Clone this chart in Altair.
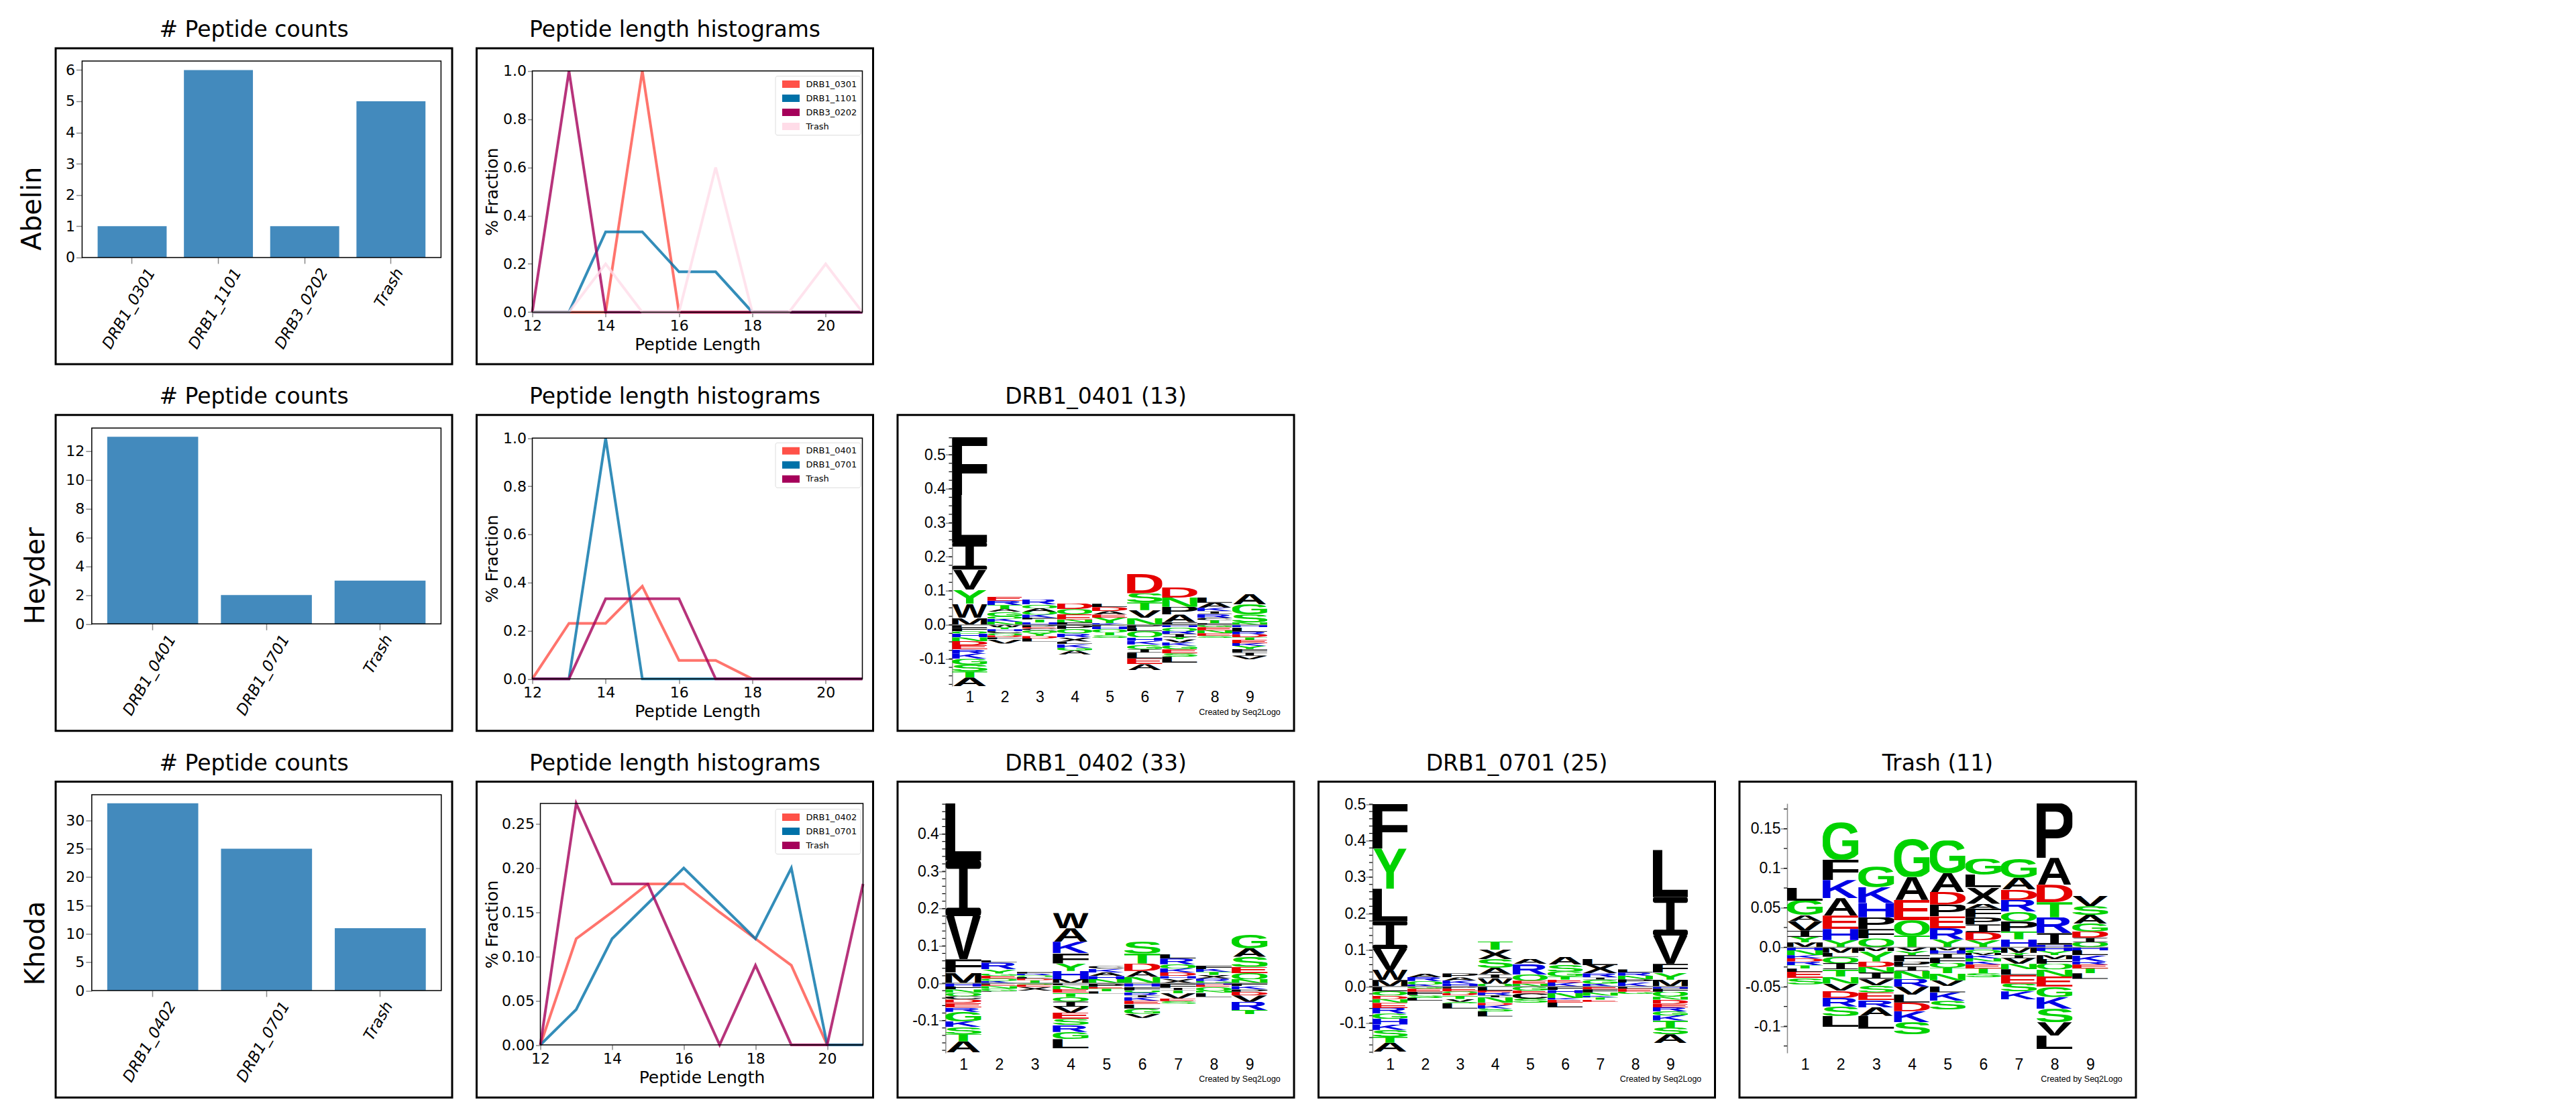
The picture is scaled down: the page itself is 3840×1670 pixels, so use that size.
import base64
import altair as alt
import pandas as pd

# ---------- data ----------
LENGTHS = [12, 13, 14, 15, 16, 17, 18, 19, 20, 21]
COLORS = ["#FF5148", "#0071A8", "#A5005A", "#FFDCE8"]

ABELIN_CATS = ["DRB1_0301", "DRB1_1101", "DRB3_0202", "Trash"]
ABELIN_COUNTS = [1, 6, 1, 5]
ABELIN_HIST = {
    "DRB1_0301": [0, 0, 0, 1, 0, 0, 0, 0, 0, 0],
    "DRB1_1101": [0, 0, .333, .333, .167, .167, 0, 0, 0, 0],
    "DRB3_0202": [0, 1, 0, 0, 0, 0, 0, 0, 0, 0],
    "Trash": [0, 0, .2, 0, 0, .6, 0, 0, .2, 0],
}
HEYDER_CATS = ["DRB1_0401", "DRB1_0701", "Trash"]
HEYDER_COUNTS = [13, 2, 3]
HEYDER_HIST = {
    "DRB1_0401": [0, .231, .231, .385, .077, .077, 0, 0, 0, 0],
    "DRB1_0701": [0, 0, 1, 0, 0, 0, 0, 0, 0, 0],
    "Trash": [0, 0, .333, .333, .333, 0, 0, 0, 0, 0],
}
KHODA_CATS = ["DRB1_0402", "DRB1_0701", "Trash"]
KHODA_COUNTS = [33, 25, 11]
KHODA_HIST = {
    "DRB1_0402": [0, .12, .15, .182, .182, .15, .12, .09, 0, 0],
    "DRB1_0701": [0, .04, .12, .16, .20, .16, .12, .20, 0, 0],
    "Trash": [0, .273, .182, .182, .09, 0, .09, 0, 0, .182],
}

# Sequence logo stacks: letter + height in thousandths, listed top to bottom.
L0401_POS = [
    "F170 L140 I80 V59 Y41 W41 M21", "E13 R13 T12 A8 G13 Q7 K9 N9",
    "R15 Q11 A10 Q9 K9 F5 T9 H7", "D17 Q15 E15 N9 F7", "L10 D12 A10 E9 Y16 K5",
    "D57 S27 T23 V22 N21", "D31 N27 P23 A22 F8", "L15 A15 K10 I8 R11 C7 T9 F5",
    "A31 G30 S23 N7",
]
L0401_NEG = [
    "L9 F10 Q7 H11 N11 D12 E12 R13 K15 G17 S20 T18 A25", "W7 Y6 H6 C6 Q6 D6 F6 V12",
    "P7 E4 C5 Q8 Y9 D7 L9", "P12 Q13 R11 X13 L7 K11 G9 A11", "P5 H8 Q9 T9 S7",
    "P9 L10 Q17 H11 K11 G13 I11 L17 E17 A17", "H7 Q11 R9 I9 Y7 V9 K9 G11 E12 S10 L17",
    "G7 E9 N9 E8 S5", "H7 L13 R8 D9 T7 E10 K8 Y9 F10 I10 V11",
]
L0402_POS = [
    "L153 I149 V116 F36 M28", "L7 R17 Y12 G6 E8 Q6 K6", "F4 R5 Q4 L5 D4 T8",
    "W41 A36 K30 F28 Y20 H22 M11", "C7 K10 A10 H8 N11", "S31 T27 D20 A16 N17",
    "L12 R15 Q11 K11 D10 H7 X12", "F9 K8 T8 X10 R6 G6", "G36 A23 S27 E17 Q16 N11",
]
L0402_NEG = [
    "H9 F8 N9 Q9 C9 D9 E12 R12 G25 K15 S19 T20 A29", "P4 E4 N7 G6 L2", "S4 E6 X10",
    "L6 N10 E9 T12 Q12 I14 V16 E17 S16 R19 G19 L25", "P10 E5 T7 L6",
    "H9 F10 Q6 R7 I6 K9 E9 L12 G14 V11", "F12 I7 T8 V14 E7 S7", "H4 E6 Q10 N5 L12",
    "F8 K9 P6 D10 V17 R22 T11",
]
L0701_POS = [
    "F123 Y110 L89 I76 V57 W28 M18", "A10 R11 Q9 K6", "P11 A8 K9 H8",
    "T23 X26 S23 A18 I11 W15 Q8", "A14 R29 Q17 E8 N8", "A21 S19 G13 T9 E8 K11",
    "L17 X23 R11 I6 G11 K8", "L9 R8 N10 P9 K11", "L130 I105 V78 F24 Y19 M19",
]
L0701_NEG = [
    "L13 Q11 D10 N11 E14 R15 G14 H16 K15 S19 T16 A25", "G6 E8 F9 S8 L8",
    "P5 E8 Q5 D6 T10 V8 S4 L14", "L11 E5 R8 I6 N15 D6 K9 S8 L14", "G11 E8 C14 S11",
    "F10 H8 N13 K5 E8 L13", "E8 F8 N9 K5 T6 E6", "L6 E8 G6",
    "H6 F8 Q14 N8 D11 E10 R11 G11 K14 T19 S19 A24",
]
LTRASH_POS = [
    "L16 G18 A8 V12 I8 Y7 M6", "G47 F26 K23 A22 E17 H14 Y9", "G26 K20 H18 P15 F12 Q11",
    "G48 A29 E26 Q19 T15", "G41 A24 D16 P15 E15 R14 Y10",
    "G20 L16 X21 A6 F11 P9 I10 D10 Y9", "G24 A15 D13 R15 Q12 P13 T10 H10",
    "P69 A34 D22 T19 R20 I15 H3", "V13 S11 A11 G10 D8 I6 Q6",
]
LTRASH_NEG = [
    "H4 N6 K4 D4 R5 T4 L4 E8 S8", "M7 L5 Q8 I8 T9 N9 V9 D9 R11 S12 L14",
    "M5 Y13 D7 N7 I8 V8 S9 E10 R9 A11 L16", "V5 Y5 F8 P6 I6 N10 R10 V10 L10 D11 K14 S15",
    "M4 H4 I6 F6 Q6 T7 N9 V7 L8 K11 S11", "H3 Q4 M3 K4 N4 K4 E5 T6 S5",
    "M7 Y3 I4 V7 N7 L7 E11 S10 K10", "H5 Y5 M5 F6 Q7 N9 E13 G13 K15 S17 V17 L17",
    "H4 L6 K8 R4 E5 T6 L7",
]

LOGO_TICKS_A = [-0.1, 0.0, 0.1, 0.2, 0.3, 0.4, 0.5]
LOGO_TICKS_B = [-0.1, 0.0, 0.1, 0.2, 0.3, 0.4]
LOGO_TICKS_T = [-0.1, -0.05, 0.0, 0.05, 0.1, 0.15]

# ---------- styling helpers ----------
BOX_W, BOX_H = 591, 471
SANS = "DejaVu Sans"
LOGO_FONT = "Liberation Sans"
TITLE = 33
BAR = "#438ABD"
LETTER_COLOR = dict.fromkeys("DE", "#E60000") | dict.fromkeys("HKR", "#0000E6") | dict.fromkeys("GSTYNQ", "#00D200")
INK = {"A": (0, 1479), "C": (98, 1378), "D": (150, 1381), "E": (150, 1257), "F": (150, 1149), "G": (100, 1468),
       "H": (150, 1327), "K": (150, 1479), "L": (150, 1190), "M": (145, 1560), "N": (150, 1325), "P": (150, 1270),
       "Q": (90, 1500), "R": (150, 1470), "S": (75, 1270), "T": (45, 1205), "V": (0, 1366), "W": (0, 1933),
       "X": (0, 1366), "Y": (0, 1366)}


def glyph(letter):
    color = LETTER_COLOR.get(letter, "#000000")
    if letter == "I":
        svg = ("<svg xmlns='http://www.w3.org/2000/svg' viewBox='0 0 100 100' preserveAspectRatio='none'>"
               "<rect x='0' y='0' width='100' height='15' rx='6' ry='7' fill='black'/>"
               "<rect x='0' y='85' width='100' height='15' rx='6' ry='7' fill='black'/>"
               "<rect x='38' y='10' width='24' height='80' fill='black'/></svg>")
    else:
        x0, x1 = INK[letter]
        svg = (f"<svg xmlns='http://www.w3.org/2000/svg' viewBox='{x0} -1409 {x1 - x0} 1409' "
               f"preserveAspectRatio='none'><text x='0' y='0' font-family='{LOGO_FONT}' font-weight='bold' "
               f"font-size='2048' fill='{color}'>{letter}</text></svg>")
    return "data:image/svg+xml;base64," + base64.b64encode(svg.encode()).decode()


GLYPH = {c: glyph(c) for c in "ACDEFGHIKLMNPQRSTVWXY"}


def logo_frame(pos, neg):
    rows = []
    for col, (p, n) in enumerate(zip(pos, neg), start=1):
        items = [(t[0], int(t[1:]) / 1000) for t in p.split()]
        top = sum(h for _, h in items)
        for c, h in items:
            rows.append({"x0": col - .5, "x1": col + .5, "y0": top - h, "y1": top, "letter": c, "url": GLYPH[c]})
            top -= h
        top = 0
        for c, h in [(t[0], int(t[1:]) / 1000) for t in n.split()]:
            rows.append({"x0": col - .5, "x1": col + .5, "y0": top - h, "y1": top, "letter": c, "url": GLYPH[c]})
            top -= h
    return pd.DataFrame(rows)


def view():
    return alt.ViewBackground(stroke="black", strokeWidth=3, fill="white")


def head(text):
    return alt.TitleParams(text, fontSize=TITLE, font=SANS, fontWeight="normal", anchor="middle", frame="group",
                           offset=10, color="black")


def frame(x0, x1, y0, y1):
    return alt.Chart(pd.DataFrame({"a": [0]})).mark_rect(fillOpacity=0, stroke="black", strokeWidth=1.5).encode(
        x=alt.value(x0), x2=alt.value(x1), y=alt.value(y0), y2=alt.value(y1))


def bars(cats, counts, row, xr, yr, ymax, po, row_x, row_y):
    df = pd.DataFrame({"cat": cats, "n": counts})
    b = alt.Chart(df).mark_bar(color=BAR).encode(
        x=alt.X("cat:N", sort=None, title=None,
                scale=alt.Scale(range=list(xr), paddingInner=.2, paddingOuter=po),
                axis=alt.Axis(labelAngle=300, labelFont=SANS, labelFontSize=23, labelFontStyle="italic",
                              labelAlign="right", labelBaseline="middle", labelPadding=9, tickSize=9,
                              tickWidth=1.5, domain=False, offset=yr[0] - BOX_H,
                              labelOffset={"condition": {"test": "datum.label == 'Trash'", "value": 13}, "value": 29})),
        y=alt.Y("n:Q", title=row,
                scale=alt.Scale(domain=[0, ymax], range=list(yr), nice=False),
                axis=alt.Axis(labelFont=SANS, labelFontSize=22, tickSize=9, tickWidth=1.5, labelPadding=2,
                              domain=False, grid=False, offset=-xr[0], tickMinStep=1,
                              values=list(range(0, int(ymax) + 1, 5 if ymax > 20 else 2 if ymax > 10 else 1)),
                              titleFont=SANS, titleFontSize=40, titleFontWeight="normal", titleBaseline="middle",
                              titleAlign="center", titleX=row_x - xr[0], titleY=row_y)))
    return alt.layer(b, frame(xr[0], xr[1], yr[1], yr[0])).properties(
        width=BOX_W, height=BOX_H, view=view(), title=head("# Peptide counts"))


def hist(series, xr, yr, ymax, ticks, fmt, legend_y):
    names = list(series)
    df = pd.DataFrame([{"len": l, "frac": v, "name": n, "ord": i} for i, n in enumerate(names)
                       for l, v in zip(LENGTHS, series[n])])
    line = alt.Chart(df).mark_line(strokeWidth=4, opacity=.8, strokeJoin="miter").encode(
        x=alt.X("len:Q", title="Peptide Length",
                scale=alt.Scale(domain=[12, 21], range=list(xr), nice=False, zero=False),
                axis=alt.Axis(values=[12, 14, 16, 18, 20], labelFont=SANS, labelFontSize=22, tickSize=7, tickWidth=1.5,
                              labelPadding=3, domain=False, grid=False, offset=yr[0] - BOX_H, labelFlush=False,
                              titleFont=SANS, titleFontSize=25, titleFontWeight="normal", titleBaseline="middle",
                              titleX=(xr[0] + xr[1]) / 2, titleY=48, titleAlign="center")),
        y=alt.Y("frac:Q", title="% Fraction",
                scale=alt.Scale(domain=[0, ymax], range=list(yr), nice=False),
                axis=alt.Axis(values=ticks, format=fmt, labelFont=SANS, labelFontSize=22, tickSize=7, tickWidth=1.5,
                              labelPadding=2, domain=False, grid=False, offset=-xr[0], labelFlush=False,
                              titleFont=SANS, titleFontSize=25, titleFontWeight="normal", titleBaseline="middle",
                              titleAlign="center", titleX=23 - xr[0], titleY=(yr[0] + yr[1]) / 2)),
        color=alt.Color("name:N", sort=names,
                        scale=alt.Scale(domain=names, range=COLORS[:len(names)]),
                        legend=alt.Legend(title=None, orient="none", legendX=445, legendY=legend_y,
                                          fillColor="white", strokeColor="#DDDDDD", cornerRadius=3, padding=5,
                                          symbolType="stroke", symbolSize=676, symbolStrokeWidth=11, symbolOpacity=1,
                                          clipHeight=15, rowPadding=6, labelFont=SANS, labelFontSize=13,
                                          labelOffset=4)),
        order="ord:Q")
    return alt.layer(line, frame(xr[0], xr[1], yr[1], yr[0])).properties(
        width=BOX_W, height=BOX_H, view=view(), title=head("Peptide length histograms"))


def logo(pos, neg, name, xr, yr, dom, ticks, minor_step):
    df = logo_frame(pos, neg)
    xs = alt.Scale(domain=[.5, 9.5], range=list(xr), nice=False, zero=False)
    ys = alt.Scale(domain=list(dom), range=list(yr), nice=False, zero=False)
    n0 = int(round(dom[0] / minor_step))
    n1 = int(dom[1] / minor_step)
    minor = pd.DataFrame({"v": [round(i * minor_step, 4) for i in range(n0, n1 + 1)], "a": .5 - 5 / (xr[1] - xr[0]) * 9, "b": .5})
    letters = alt.Chart(df).mark_image(aspect=False).encode(
        x=alt.X("x0:Q", title="Created by Seq2Logo", scale=xs,
                axis=alt.Axis(values=list(range(1, 10)), format="d", labelFont=LOGO_FONT, labelFontSize=23, ticks=False, domain=False,
                              grid=False, labelPadding=6, offset=yr[0] - BOX_H, labelFlush=False,
                              titleFont=LOGO_FONT, titleFontSize=12.5, titleFontWeight="normal", titleBaseline="middle",
                              titleAlign="center", titleX=509.5, titleY=443 - yr[0])),
        x2="x1:Q",
        y=alt.Y("y0:Q", title=None, scale=ys,
                axis=alt.Axis(values=ticks, labelFont=LOGO_FONT, labelFontSize=23, tickSize=10, tickWidth=1.5, labelPadding=0,
                              domainWidth=1.5, grid=False, offset=-xr[0], labelFlush=False,
                              labelExpr="datum.value == 0 ? '0.0' : '' + datum.value")),
        y2="y1:Q",
        url="url:N")
    zero = alt.Chart(pd.DataFrame({"a": [.5], "b": [9.5], "z": [0]})).mark_rule(color="#888888", strokeWidth=1.5).encode(
        x=alt.X("a:Q", scale=xs), x2="b:Q", y=alt.Y("z:Q", scale=ys))
    ticks_minor = alt.Chart(minor).mark_rule(color="black", strokeWidth=1.2).encode(
        x=alt.X("a:Q", scale=xs), x2="b:Q", y=alt.Y("v:Q", scale=ys))
    return alt.layer(letters, zero, ticks_minor).properties(width=BOX_W, height=BOX_H, view=view(), title=head(name))


def blank():
    return alt.Chart(pd.DataFrame({"a": [0]})).mark_point(opacity=0).encode(x=alt.value(0), y=alt.value(0)).properties(
        width=BOX_W, height=BOX_H, view=alt.ViewBackground(stroke="transparent"))


H_TICKS = [0, .2, .4, .6, .8, 1]
K_TICKS = [0, .05, .1, .15, .2, .25]
panels = [
    bars(ABELIN_CATS, ABELIN_COUNTS, "Abelin", (39.4, 574.4), (311.9, 18.9), 6.29, .18, -34.6, 238.5),
    hist(ABELIN_HIST, (83, 575), (393.4, 33.8), 1, H_TICKS, ".1f", 41),
    blank(), blank(), blank(),
    bars(HEYDER_CATS, HEYDER_COUNTS, "Heyder", (53.8, 574.4), (311.5, 19.5), 13.6, .136, -30, 239.5),
    hist(HEYDER_HIST, (83, 575), (393.6, 34.6), 1, H_TICKS, ".1f", 41),
    logo(L0401_POS, L0401_NEG, "DRB1_0401 (13)", (81.4, 551), (404.2, 34), (-.18, .55), LOGO_TICKS_A, .025),
    blank(), blank(),
    bars(KHODA_CATS, KHODA_COUNTS, "Khoda", (53.8, 574.8), (311.5, 19.5), 34.5, .136, -30, 240.5),
    hist(KHODA_HIST, (95, 576), (392.5, 32.5), .273, K_TICKS, ".2f", 40.5),
    logo(L0402_POS, L0402_NEG, "DRB1_0402 (33)", (71.4, 551.4), (404.5, 32.5), (-.187, .482), LOGO_TICKS_B, .02),
    logo(L0701_POS, L0701_NEG, "DRB1_0701 (25)", (80.4, 550.6), (404.5, 32.5), (-.182, .502), LOGO_TICKS_A, .02),
    logo(LTRASH_POS, LTRASH_NEG, "Trash (11)", (71, 549.4), (404.5, 32.5), (-.1338, .182), LOGO_TICKS_T, .025),
]

chart = alt.concat(*panels, columns=5, spacing={"row": 75.75, "column": 36.5}, bounds="flush").resolve_scale(
    color="independent", x="independent", y="independent"
).resolve_legend(color="independent").properties(
    padding={"left": 18, "top": 19, "right": 5, "bottom": 5}
).configure_view(continuousWidth=300).configure_axis(
    grid=False, labelColor="black", titleColor="black", tickColor="black", domainColor="black"
).configure(background="white")

chart.save("out.html", embed_options={"renderer": "svg", "actions": False})
